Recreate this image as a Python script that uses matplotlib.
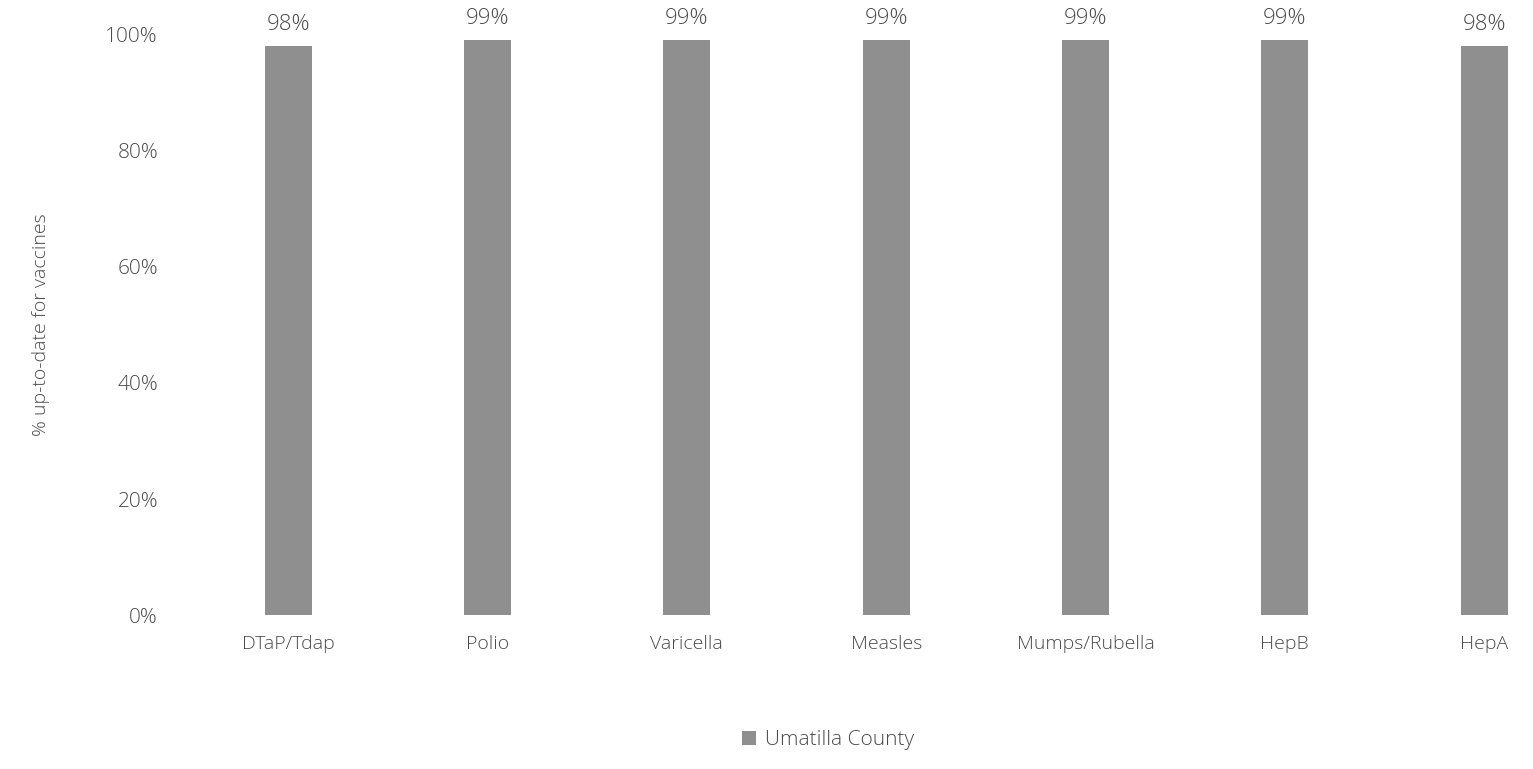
import matplotlib.pyplot as plt
import numpy as np

categories = ['DTaP/Tdap', 'Polio', 'Varicella', 'Measles', 'Mumps/Rubella', 'HepB', 'HepA']
values = [98, 99, 99, 99, 99, 99, 98]
series_name = 'Umatilla County'

plt.rcParams['font.family'] = ['Open Sans', 'DejaVu Sans']
plt.rcParams['font.weight'] = 'light'
plt.rcParams['axes.labelweight'] = 'light'
text_color = '#4a4a4a'

fig = plt.figure(figsize=(15.33, 7.69), dpi=100)
ax = fig.add_axes([0.123, 0.2, 0.875, 0.755])

x = np.arange(len(categories))
bars = ax.bar(x, values, width=0.235, color='#8f8f8f', label=series_name)

for xi, v in zip(x, values):
    ax.text(xi, v + 2.0, f'{v}%', ha='center', va='bottom', fontsize=16, color=text_color)

ax.set_ylim(0, 100)
ax.set_xlim(-0.5, 6.23)
ax.set_yticks(range(0, 101, 20))
ax.set_yticklabels([f'{t}%' for t in range(0, 101, 20)], fontsize=15, color=text_color)
ax.set_xticks(x)
ax.set_xticklabels(categories, fontsize=14, color=text_color)
ax.tick_params(axis='both', length=0)
ax.tick_params(axis='y', pad=22)
ax.tick_params(axis='x', pad=14)
for s in ax.spines.values():
    s.set_visible(False)

ax.set_ylabel('% up-to-date for vaccines', fontsize=14, color=text_color,
              fontweight='light', labelpad=40)

fig.legend(handles=[bars], labels=[series_name], loc='lower center',
           bbox_to_anchor=(0.54, 0.0), frameon=False, fontsize=15,
           handlelength=0.7, handleheight=0.7, handletextpad=0.4,
           labelcolor=text_color)

fig.savefig('out.png', dpi=100, facecolor='white')
